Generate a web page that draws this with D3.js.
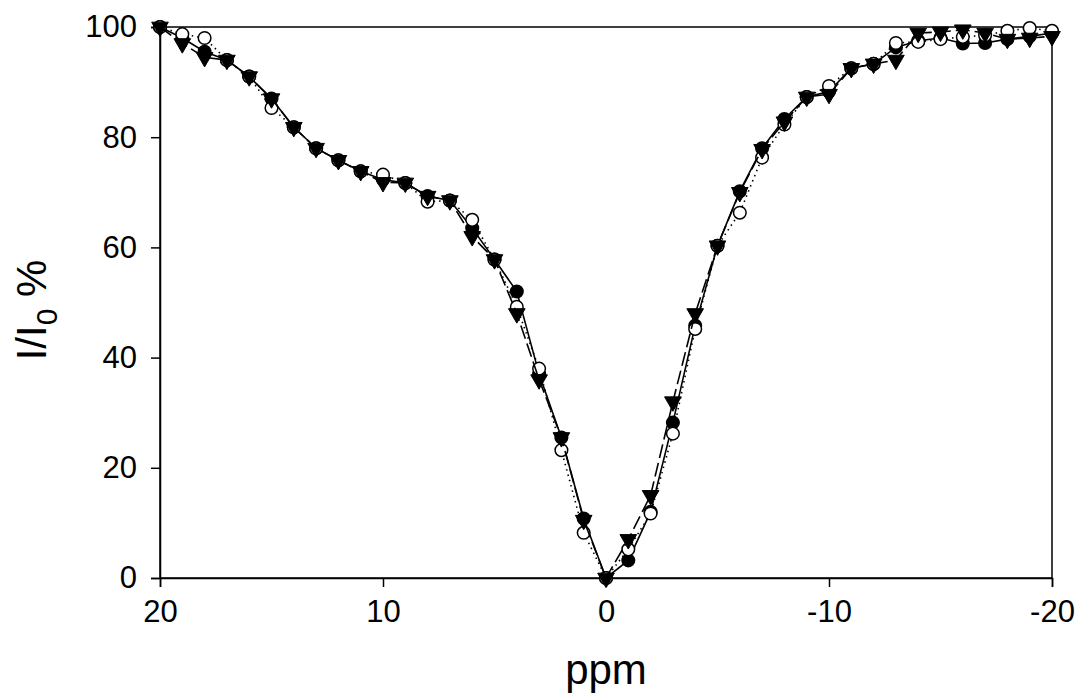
<!DOCTYPE html>
<html><head><meta charset="utf-8">
<script src="https://cdn.jsdelivr.net/npm/d3@7/dist/d3.min.js"></script>
<style>body{margin:0;background:#fff}svg{display:block}</style>
</head><body>
<svg id="c" width="1081" height="700"></svg>
<script>
const ppm = [20,19,18,17,16,15,14,13,12,11,10,9,8,7,6,5,4,3,2,1,0,-1,-2,-3,-4,-5,-6,-7,-8,-9,-10,-11,-12,-13,-14,-15,-16,-17,-18,-19,-20];
const filledCircle = [100,98,95.5,94,91,87,81.8,78,75.8,73.8,72.3,71.7,69.3,68.5,63.5,57.8,52,37,25.5,10.8,0,3.2,12,28.2,45.8,60.3,70.2,78,83.3,87.3,88.3,92.5,93.3,96.3,97.5,98,97,97.1,97.8,98.3,98.9];
const openCircle = [100,98.7,98,94,91,85.3,81.8,78,75.8,73.8,73.2,71.7,68.3,68.5,65,57.8,49.2,38,23.2,8.2,0,5.2,11.7,26.2,45.2,60.3,66.3,76.3,82.3,87.3,89.3,92.5,93.3,97.1,97.3,97.8,98.2,98.5,99.3,99.8,99.3];
const triangle = [100,97,94.5,94,91,87,81.8,78,75.8,73.8,71.8,71.7,69.3,68.5,62,57.8,48,36,25.5,10.5,0,7,15,32,48,60.3,70,77.8,82.8,87.3,87.8,92.5,93.3,94,98.9,99.1,99.5,98.9,97.8,98,98.3];
const xTicks = [20,10,0,-10,-20];
const yTicks = [0,20,40,60,80,100];

const svg = d3.select('#c');
const L=160,R=1052,T=27,B=578;
const x = d3.scaleLinear().domain([20,-20]).range([L,R]);
const y = d3.scaleLinear().domain([0,100]).range([B,T]);
const font = "'Liberation Sans', Arial, sans-serif";

svg.append('rect').attr('x',L).attr('y',T).attr('width',R-L).attr('height',B-T)
  .attr('fill','none').attr('stroke','#000').attr('stroke-width',1.5);

const xa = svg.append('g').attr('transform',`translate(0,${B})`)
  .call(d3.axisBottom(x).tickValues(xTicks).tickSize(9).tickPadding(13).tickFormat(d=>String(d)));
const ya = svg.append('g').attr('transform',`translate(${L},0)`)
  .call(d3.axisLeft(y).tickValues(yTicks).tickSize(9).tickPadding(14));
[xa,ya].forEach(g=>{
  g.select('.domain').attr('stroke','#000').attr('stroke-width',1.5);
  g.selectAll('.tick line').attr('stroke','#000').attr('stroke-width',1.5);
  g.selectAll('.tick text').attr('font-family',font).attr('font-size',31).attr('fill','#000');
});

svg.append('text').attr('x',606).attr('y',684).attr('text-anchor','middle')
  .attr('font-family',font).attr('font-size',42).text('ppm');
const yt = svg.append('text').attr('transform','translate(46,310) rotate(-90)')
  .attr('text-anchor','middle').attr('font-family',font).attr('font-size',42);
yt.append('tspan').text('I/I');
yt.append('tspan').attr('font-size',30).attr('dy',11).text('0');
yt.append('tspan').attr('dy',-11).text(' %');

const line = d3.line().x((d,i)=>x(ppm[i])).y(d=>y(d));
const g = svg.append('g');

function series(vals, dash, markerFn){
  g.append('path').datum(vals).attr('d',line).attr('fill','none')
    .attr('stroke','#000').attr('stroke-width',1.6).attr('stroke-dasharray',dash);
  markerFn(g, vals);
}
const circles = fill => (gg, vals) => gg.selectAll(null).data(vals).enter().append('circle')
  .attr('cx',(d,i)=>x(ppm[i])).attr('cy',d=>y(d)).attr('r',6.3)
  .attr('fill',fill).attr('stroke','#000').attr('stroke-width',1.5);
const tri = d3.symbol().type(d3.symbolTriangle).size(120);
const triangles = (gg, vals) => gg.selectAll(null).data(vals).enter().append('path')
  .attr('d',tri).attr('transform',(d,i)=>`translate(${x(ppm[i])},${y(d)}) rotate(180)`)
  .attr('fill','#000').attr('stroke','#000').attr('stroke-width',1);

series(filledCircle, null, circles('#000'));
series(openCircle, '1.5,4', circles('#fff'));
series(triangle, '14,5', triangles);
</script>
</body></html>
